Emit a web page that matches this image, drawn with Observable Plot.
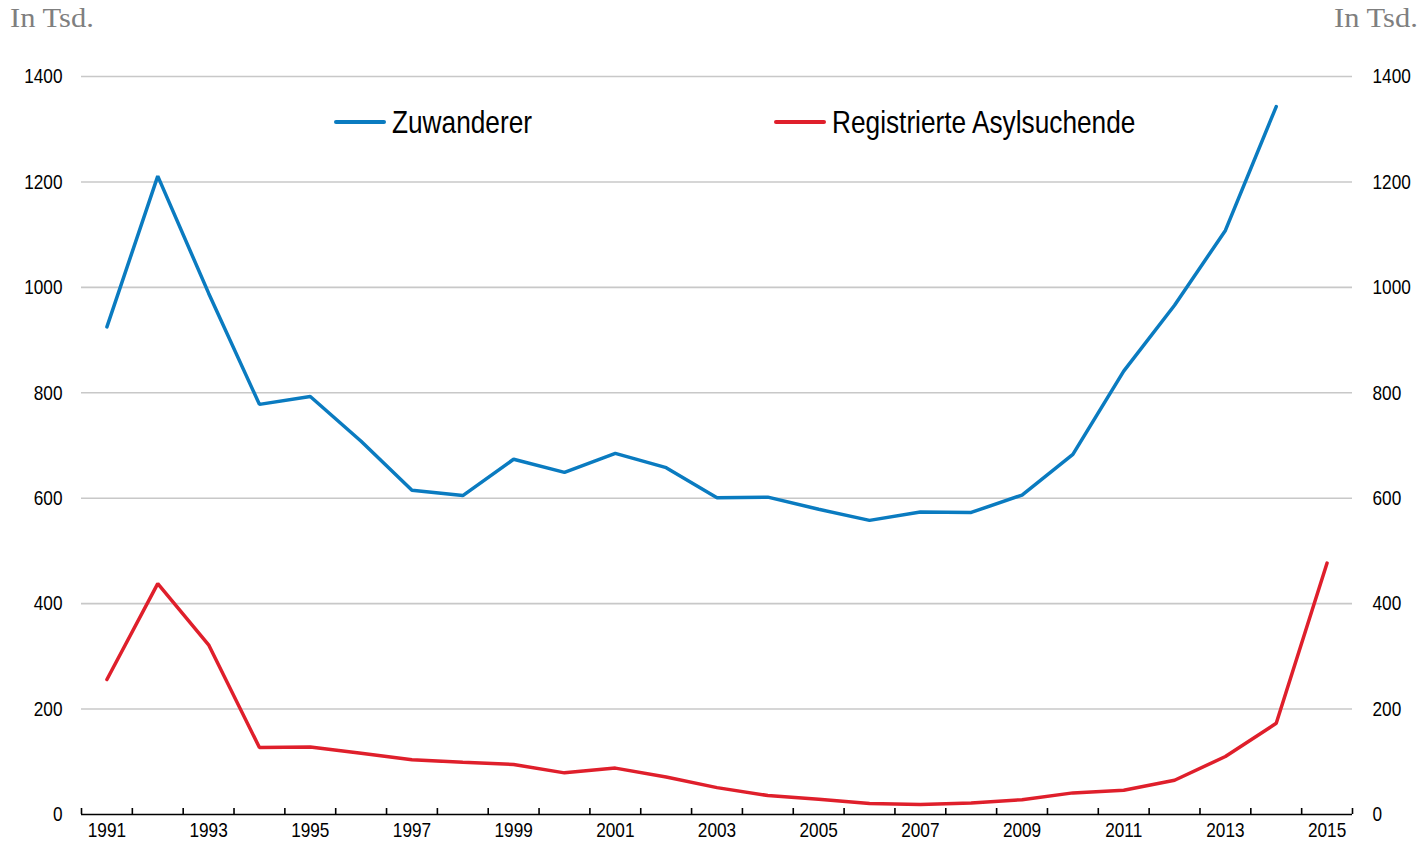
<!DOCTYPE html>
<html>
<head>
<meta charset="utf-8">
<script src="https://cdn.jsdelivr.net/npm/d3@7"></script>
<script src="https://cdn.jsdelivr.net/npm/@observablehq/plot@0.6"></script>
<style>
  html, body { margin: 0; padding: 0; background: #fff; }
  #wrap { position: relative; width: 1421px; height: 844px; overflow: hidden; }
  .unit { position: absolute; top: 1px; font-family: "Liberation Serif", "Times New Roman", serif; font-size: 28px; color: #7f7f7f; line-height: 34px; transform: scaleX(1.09); }
  .legend { position: absolute; top: 103px; height: 38px; display: flex; align-items: center;
            font-family: "Liberation Sans Narrow", "Arial Narrow", "Liberation Sans", Arial, sans-serif; font-size: 32px; color: #000; white-space: nowrap; }
  .legend .sw { display: inline-block; width: 52px; height: 3.5px; border-radius: 2px; margin-right: 6px; }
  .legend .tx { display: inline-block; transform: scaleX(0.82); transform-origin: left center; }
  #chart svg { display: block; }
</style>
</head>
<body>
<div id="wrap">
  <div class="unit" style="left:10px; transform-origin: left center;">In Tsd.</div>
  <div class="unit" style="right:3px; transform-origin: right center;">In Tsd.</div>
  <div id="chart"></div>
  <div class="legend" style="left:334px;"><span class="sw" style="background:#0a7bc0"></span><span class="tx">Zuwanderer</span></div>
  <div class="legend" style="left:774px;"><span class="sw" style="background:#df1f2b"></span><span class="tx">Registrierte Asylsuchende</span></div>
</div>
<script>
const years = [1991,1992,1993,1994,1995,1996,1997,1998,1999,2000,2001,2002,2003,2004,2005,2006,2007,2008,2009,2010,2011,2012,2013,2014,2015];
const zuwanderer = [925,1211,989,778,793,708,615,605,674,649,685,658,601,602,579,558,574,573,606,683,841,966,1108,1343,null];
const asyl = [256,438,322,127,128,116,104,99,95,79,88,71,51,36,29,21,19,22,28,41,46,65,110,173,477];
const yTicks = [0,200,400,600,800,1000,1200,1400];
const xLabelYears = [1991,1993,1995,1997,1999,2001,2003,2005,2007,2009,2011,2013,2015];
const xBoundaries = [...years.map(y => y - 0.5), years[years.length-1] + 0.5];

const rowsZ = years.map((y,i) => ({year: y, value: zuwanderer[i]})).filter(d => d.value != null);
const rowsA = years.map((y,i) => ({year: y, value: asyl[i]}));

const W = 1421, H = 844, mt = 76, mb = 30, ml = 81, mr = 69;
const plotH = H - mt - mb;

const chart = Plot.plot({
  width: W, height: H,
  marginTop: mt, marginBottom: mb, marginLeft: ml, marginRight: mr,
  style: { fontFamily: '"Liberation Sans Narrow", "Arial Narrow", "Liberation Sans", Arial, sans-serif', fontSize: "21px", color: "#000", background: "#fff", overflow: "visible" },
  x: { type: "linear", domain: [years[0] - 0.5, years[years.length-1] + 0.5] },
  y: { domain: [0, 1400] },
  marks: [
    Plot.gridY(yTicks.filter(v => v > 0), { stroke: "#c8c8c8", strokeOpacity: 1, strokeWidth: 1.6 }),
    Plot.axisY({ anchor: "left", ticks: yTicks, tickSize: 0, tickPadding: 19, label: null, tickFormat: d => String(d), fontSize: 21 }),
    Plot.axisY({ anchor: "right", ticks: yTicks, tickSize: 0, tickPadding: 20, label: null, tickFormat: d => String(d), fontSize: 21 }),
    Plot.axisX({ anchor: "bottom", ticks: xLabelYears, tickSize: 0, tickPadding: 8, label: null, tickFormat: d => String(d), fontSize: 21 }),
    Plot.tickX(xBoundaries, { x: d => d, stroke: "#000", strokeWidth: 1.6, insetTop: plotH - 6 }),
    Plot.ruleY([0], { stroke: "#000", strokeWidth: 1.6 }),
    Plot.lineY(rowsZ, { x: "year", y: "value", stroke: "#0a7bc0", strokeWidth: 3.5, strokeLinejoin: "miter", strokeLinecap: "round" }),
    Plot.lineY(rowsA, { x: "year", y: "value", stroke: "#df1f2b", strokeWidth: 3.5, strokeLinejoin: "miter", strokeLinecap: "round" })
  ]
});
// emulate a condensed face: squeeze tick labels horizontally around their anchor
chart.querySelectorAll("text").forEach(t => {
  const tr = t.getAttribute("transform") || "";
  t.setAttribute("transform", (tr + " scale(0.82,1)").trim());
});
document.getElementById("chart").appendChild(chart);
</script>
</body>
</html>
